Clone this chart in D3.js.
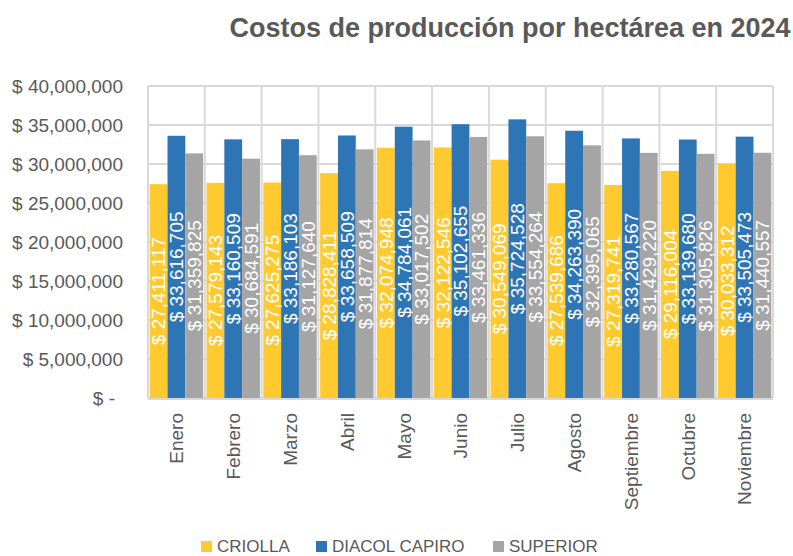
<!DOCTYPE html>
<meta charset="utf-8">
<head>
<style>
  body { margin: 0; background: white; font-family: "Liberation Sans", Arial, sans-serif; }
  svg { display: block; }
</style>
<script src="https://cdn.jsdelivr.net/npm/d3@7"></script>
</head>
<body>
<svg id="chart"></svg>
<script>

// data
let months = ["Enero", "Febrero", "Marzo", "Abril", "Mayo", "Junio", "Julio", "Agosto", "Septiembre", "Octubre", "Noviembre"]
let seriesNames = ["CRIOLLA", "DIACOL CAPIRO", "SUPERIOR"]
let criolla = [27411117, 27579143, 27625275, 28828411, 32074948, 32122546, 30549069, 27539686, 27319741, 29116004, 30033312]
let diacolCapiro = [33616705, 33160509, 33186103, 33658509, 34784061, 35102655, 35724528, 34263390, 33280567, 33139680, 33505473]
let superior = [31359825, 30684591, 31127640, 31877814, 33017502, 33461336, 33554264, 32395065, 31429220, 31305826, 31440557]
let yTicks = [0, 5000000, 10000000, 15000000, 20000000, 25000000, 30000000, 35000000, 40000000]

let colors = ["#FFC930", "#2E75B6", "#A5A5A5"]

function getConfig() {
  let width = 793
  let height = 556
  let margin = {top: 86, right: 20, bottom: 158, left: 148}
  let bodyWidth = width - margin.left - margin.right
  let bodyHeight = height - margin.top - margin.bottom
  let container = d3.select("#chart").attr("width", width).attr("height", height)
  return {width, height, margin, bodyWidth, bodyHeight, container}
}

function getScales(config) {
  let {bodyWidth, bodyHeight} = config
  let x0 = d3.scaleBand().domain(months).range([0, bodyWidth]).padding(0)
  let gap = x0.bandwidth() * 0.03
  let x1 = d3.scaleBand().domain(seriesNames).range([gap, x0.bandwidth() - gap]).padding(0)
  let y = d3.scaleLinear().domain([0, 40000000]).range([bodyHeight, 0])
  return {x0, x1, y}
}

function drawChart() {
  let config = getConfig()
  let scales = getScales(config)
  let {container, margin, bodyWidth, bodyHeight, width} = config
  let {x0, x1, y} = scales

  // title
  container.append("text")
    .attr("x", 510)
    .attr("y", 37)
    .attr("text-anchor", "middle")
    .style("font-size", "27px")
    .style("font-weight", "bold")
    .style("fill", "#595959")
    .text("Costos de producción por hectárea en 2024")

  let body = container.append("g")
    .attr("transform", `translate(${margin.left},${margin.top})`)

  // horizontal gridlines
  body.selectAll(".hgrid")
    .data(yTicks)
    .enter().append("line")
    .attr("x1", 0).attr("x2", bodyWidth)
    .attr("y1", d => y(d)).attr("y2", d => y(d))
    .attr("stroke", "#D9D9D9").attr("stroke-width", 2)

  // vertical gridlines between months
  let edges = months.map(m => x0(m)).concat([bodyWidth])
  body.selectAll(".vgrid")
    .data(edges)
    .enter().append("line")
    .attr("x1", d => d).attr("x2", d => d)
    .attr("y1", 0).attr("y2", bodyHeight)
    .attr("stroke", "#D9D9D9").attr("stroke-width", 2)

  let table = months.map((m, i) => ({
    month: m,
    values: [criolla[i], diacolCapiro[i], superior[i]].map((v, j) => ({month: m, name: seriesNames[j], value: v, color: colors[j]}))
  }))

  let groups = body.selectAll(".group")
    .data(table)
    .enter().append("g")
    .attr("transform", d => `translate(${x0(d.month)},0)`)

  groups.selectAll("rect")
    .data(d => d.values)
    .enter().append("rect")
    .attr("x", d => x1(d.name))
    .attr("width", x1.bandwidth())
    .attr("y", d => y(d.value))
    .attr("height", d => bodyHeight - y(d.value))
    .attr("fill", d => d.color)

  let fmt = d3.format(",")
  groups.selectAll(".lbl")
    .data(d => d.values)
    .enter().append("text")
    .attr("transform", d => `translate(${x1(d.name) + x1.bandwidth() / 2},${(y(d.value) + bodyHeight) / 2}) rotate(-90)`)
    .attr("text-anchor", "middle")
    .attr("dy", "0.36em")
    .style("font-size", "19px")
    .style("fill", "white")
    .text(d => "$ " + fmt(d.value))

  // x axis line
  body.append("line")
    .attr("x1", 0).attr("x2", bodyWidth)
    .attr("y1", bodyHeight + 1).attr("y2", bodyHeight + 1)
    .attr("stroke", "#D9D9D9").attr("stroke-width", 2)

  // y axis
  let axisY = d3.axisLeft(y).tickValues(yTicks).tickSize(0).tickPadding(25)
    .tickFormat(d => d === 0 ? "$ -" : "$ " + fmt(d))
  let gy = body.append("g").call(axisY)
  gy.select(".domain").remove()
  gy.selectAll("text")
    .style("font-family", "'Liberation Sans', Arial, sans-serif")
    .style("font-size", "19px")
    .style("fill", "#595959")
    .attr("dx", d => d === 0 ? "-8px" : 0)

  // x axis labels
  let axisX = d3.axisBottom(x0).tickSize(0).tickPadding(0)
  let gx = body.append("g").attr("transform", `translate(0,${bodyHeight})`).call(axisX)
  gx.select(".domain").remove()
  gx.selectAll("text")
    .style("font-family", "'Liberation Sans', Arial, sans-serif")
    .style("font-size", "19px")
    .style("fill", "#595959")
    .attr("transform", "translate(0,15) rotate(-90)")
    .attr("text-anchor", "end")
    .attr("x", 0)
    .attr("y", 0)
    .attr("dy", "0.36em")

  // legend
  let legendX = [201, 316, 493]
  let legend = container.selectAll(".legend")
    .data(seriesNames)
    .enter().append("g")
    .attr("transform", (d, i) => `translate(${legendX[i]},541)`)
  legend.append("rect")
    .attr("width", 11).attr("height", 11)
    .attr("fill", (d, i) => colors[i])
  legend.append("text")
    .attr("x", 16).attr("y", 11)
    .style("font-size", "17px")
    .style("fill", "#595959")
    .text(d => d)
}

drawChart()
</script>
</body>
